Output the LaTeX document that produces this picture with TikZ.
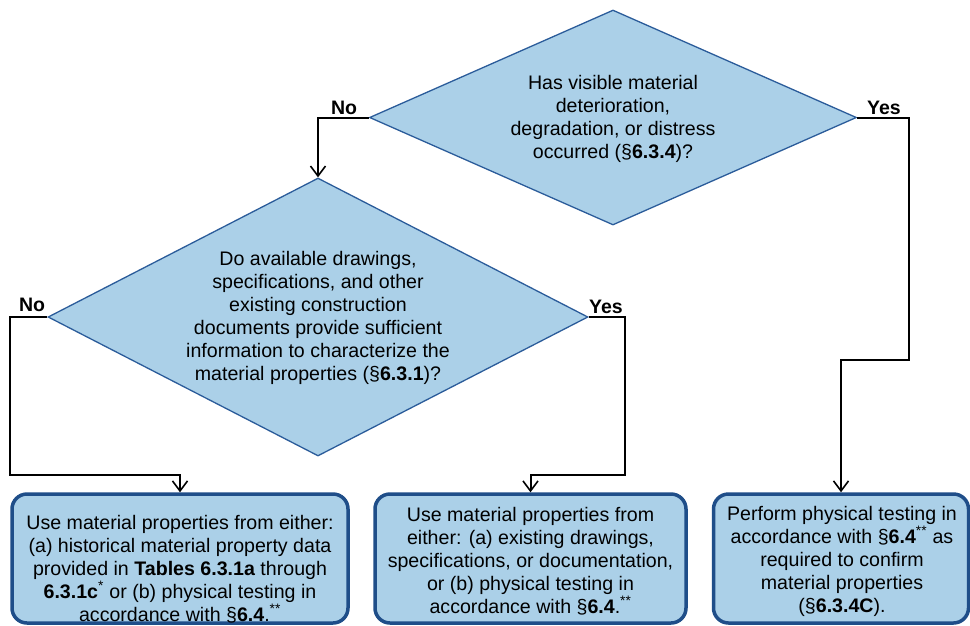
\documentclass[tikz,border=0pt]{standalone}
\usepackage{fontspec}
\setmainfont{Liberation Sans}
\usetikzlibrary{shapes.geometric,arrows.meta}
\definecolor{boxfill}{HTML}{ABD0E8}
\definecolor{dborder}{HTML}{2B5C9A}
\definecolor{bborder}{HTML}{1F4E89}
\tikzset{
  question/.style={diamond, draw=dborder, line width=1.3pt, fill=boxfill, inner sep=0pt},
  actionbox/.style={rectangle, rounded corners=15pt, draw=bborder, line width=3.5pt, fill=boxfill, inner sep=0pt},
  txt/.style={align=center, inner sep=0pt, font=\fontsize{19.6}{23}\selectfont},
  answer/.style={inner sep=0pt, font=\fontsize{19.5}{23}\selectfont\bfseries},
  conn/.style={draw=black, line width=2pt, -{Straight Barb[length=10pt,width=15pt,line width=1.6pt]}},
}
\begin{document}
\begin{tikzpicture}[x=1pt,y=-1pt]
\useasboundingbox (0,0) rectangle (970,625);
\fill[white] (0,0) rectangle (970,625);

% decisions
\node[question, minimum width=487pt, minimum height=215pt] (q1) at (613,117.5) {};
\node[txt] (q1t) at (613,119) {Has visible material\\deterioration,\\degradation, or distress\\occurred (§\textbf{6.3.4})?};

\node[question, minimum width=540pt, minimum height=278pt] (q2) at (318,317) {};
\node[txt] (q2t) at (318,318) {Do available drawings,\\specifications, and other\\existing construction\\documents provide sufficient\\information to characterize the\\material properties (§\textbf{6.3.1})?};

% action boxes
\node[actionbox, minimum width=336pt, minimum height=129pt] (b1) at (180,558.5) {};
\node[txt] (b1t) at (180,569) {Use material properties from either:\\(a) historical material property data\\provided in \textbf{Tables 6.3.1a} through\\\textbf{6.3.1c}\textsuperscript{*} or (b) physical testing in\\accordance with §\textbf{6.4}.\textsuperscript{**}};

\node[actionbox, minimum width=311pt, minimum height=129pt] (b2) at (530.5,558.5) {};
\node[txt] (b2t) at (530.5,561) {Use material properties from\\either: (a) existing drawings,\\specifications, or documentation,\\or (b) physical testing in\\accordance with §\textbf{6.4}.\textsuperscript{**}};

\node[actionbox, minimum width=255pt, minimum height=129pt] (b3) at (841,558.5) {};
\node[txt] (b3t) at (842,561) {Perform physical testing in\\accordance with §\textbf{6.4}\textsuperscript{**} as\\required to confirm\\material properties\\(§\textbf{6.3.4C}).};

% bend points
\coordinate (r1) at (909,360);
\coordinate (l1) at (10,475);
\coordinate (m1) at (625,475);

% connectors
\draw[conn] (q1.west) -| (q2.north);
\draw[conn] (q1.east) -| (r1) -| (b3.north);
\draw[conn] (q2.west) -| (l1) -| (b1.north);
\draw[conn] (q2.east) -| (m1) -| (b2.north);

% answers
\node[answer] (n1) at (344,108) {No};
\node[answer] (y1) at (884,108) {Yes};
\node[answer] (n2) at (32,305) {No};
\node[answer] (y2) at (606,307) {Yes};
\end{tikzpicture}
\end{document}
